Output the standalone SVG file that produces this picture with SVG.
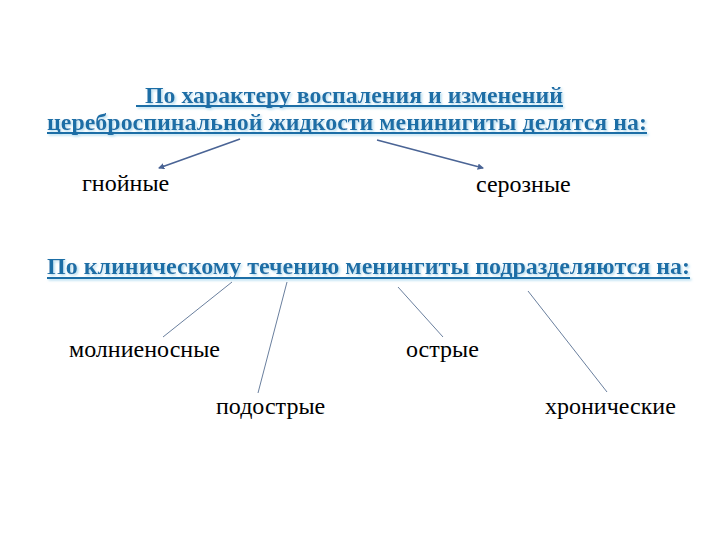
<svg xmlns="http://www.w3.org/2000/svg" width="720" height="540" viewBox="0 0 720 540">
<defs>
<filter id="sh" x="-5%" y="-40%" width="110%" height="180%">
<feDropShadow dx="1.5" dy="1.5" stdDeviation="1" flood-color="#a8d8ee" flood-opacity="0.9"/>
</filter>
<marker id="ah" viewBox="0 0 6 6" refX="5" refY="3" markerWidth="4" markerHeight="4" orient="auto">
<path d="M0,0 L6,3 L0,6 z" fill="#4a6495"/>
</marker>
</defs>
<style>
.title{font-family:"Liberation Serif",serif;font-weight:bold;font-size:24px;fill:#1f6ea6;}
.ul{stroke:#1f6ea6;stroke-width:2;}
.lbl{font-family:"Liberation Serif",serif;font-size:24px;fill:#000;}
.arr{stroke:#4a6495;stroke-width:1.6;fill:none;marker-end:url(#ah);}
.ln{stroke:#6a7f9e;stroke-width:1;fill:none;}
</style>
<rect width="720" height="540" fill="#fff"/>
<g id="title1" filter="url(#sh)">
<text class="title" x="145" y="103" textLength="418" lengthAdjust="spacingAndGlyphs">По характеру воспаления и изменений</text>
<line class="ul" x1="136" y1="106" x2="563" y2="106"/>
<text class="title" x="47" y="130" textLength="600" lengthAdjust="spacingAndGlyphs">цереброспинальной жидкости менинигиты делятся на:</text>
<line class="ul" x1="47" y1="133" x2="647" y2="133"/>
</g>
<g id="title2" filter="url(#sh)">
<text class="title" x="47" y="274" textLength="643" lengthAdjust="spacingAndGlyphs">По клиническому течению менингиты подразделяются на:</text>
<line class="ul" x1="47" y1="278" x2="690" y2="278"/>
</g>
<g id="n-gnoinye"><text class="lbl" x="82" y="191">гнойные</text></g>
<g id="n-seroznye"><text class="lbl" x="476" y="192">серозные</text></g>
<g id="n-molnienosnye"><text class="lbl" x="69" y="357">молниеносные</text></g>
<g id="n-ostrye"><text class="lbl" x="406" y="357">острые</text></g>
<g id="n-podostrye"><text class="lbl" x="216" y="414">подострые</text></g>
<g id="n-khronicheskie"><text class="lbl" x="545" y="414">хронические</text></g>
<g id="connectors">
<line class="arr" x1="240" y1="139" x2="159" y2="168"/>
<line class="arr" x1="377" y1="140" x2="483" y2="168"/>
<line class="ln" x1="232" y1="282" x2="163" y2="337"/>
<line class="ln" x1="287" y1="282" x2="258" y2="393"/>
<line class="ln" x1="398" y1="287" x2="443" y2="337"/>
<line class="ln" x1="528" y1="291" x2="607" y2="392"/>
</g>
</svg>
